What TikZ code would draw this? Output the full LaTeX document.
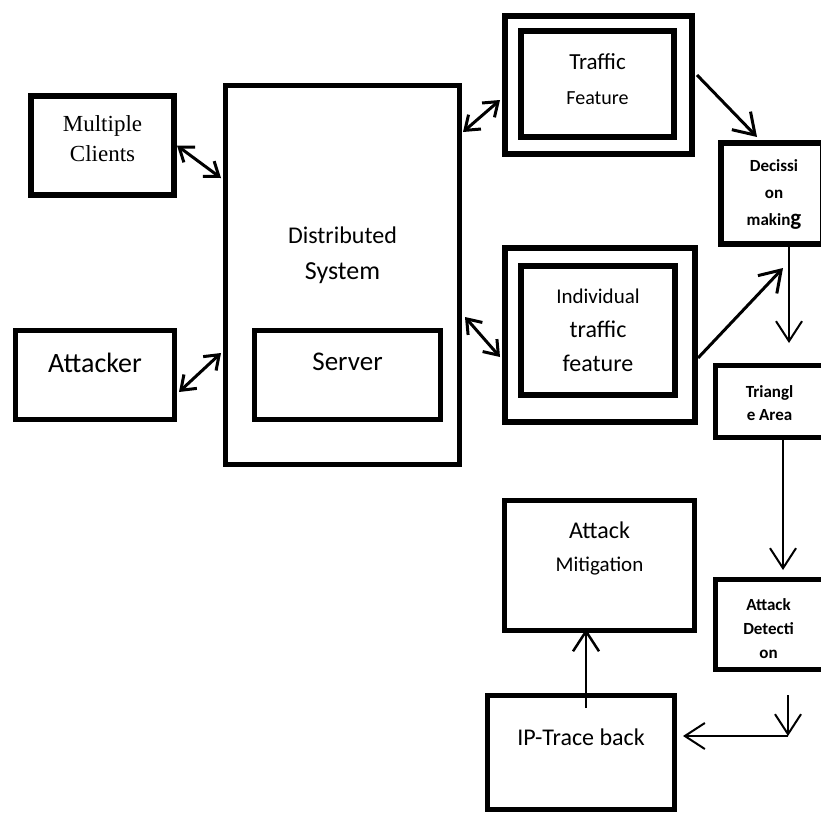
\documentclass[tikz,border=0pt]{standalone}
\usepackage{fontspec}
\setmainfont{Carlito}
\newfontfamily\timesfont{Liberation Serif}
\usetikzlibrary{arrows.meta,calc,positioning}
\tikzset{
mybox/.style={
  rectangle,
  line width=5pt,
  inner sep=0pt,
  draw=black,
  }
}
\tikzset{
mytext/.style={
  align=center,
  inner sep=0pt,
  }
}
\tikzset{
myline/.style={
  line width=2pt,
  -{Straight Barb[length=20pt,width=26pt]}
  }
}
\tikzset{
mydline/.style={
  line width=3pt,
  {Straight Barb[length=13pt,width=19pt]}-{Straight Barb[length=13pt,width=19pt]}
  }
}

\begin{document}
\begin{tikzpicture}[x=1pt,y=-1pt]
    \useasboundingbox (0,0) rectangle (821,814);
    \clip (0,0) rectangle (821,814);

    % left part
    \node[mybox, line width=6pt, minimum width=143pt, minimum height=99pt,
      label={[mytext, yshift=7pt, font=\timesfont\fontsize{23}{30}\selectfont]center:Multiple\\Clients}] (clients) at (102.5,145.5) {};
    \node[mybox, minimum width=159pt, minimum height=89pt,
      label={[mytext, yshift=12pt, font=\fontsize{28}{32}\selectfont]center:Attacker}] (attacker) at (95,375) {};

    % system part
    \node[mybox, minimum width=234pt, minimum height=379pt,
      label={[mytext, yshift=20pt, font=\fontsize{24}{36}\selectfont]center:Distributed\\{\fontsize{26}{36}\selectfont System}}] (dsys) at (342.5,275) {};
    \node[mybox, minimum width=186pt, minimum height=89pt,
      label={[mytext, yshift=13pt, font=\fontsize{27}{32}\selectfont]center:Server}] (server) at (347.5,375) {};

    % feature part
    \node[mybox, line width=6pt, minimum width=187pt, minimum height=138pt] (traffic) at (598.5,85) {};
    \node[mybox, line width=6pt, minimum width=153pt, minimum height=106pt,
      label={[mytext, yshift=4.5pt, font=\fontsize{23}{35}\selectfont]center:Traffic\\{\fontsize{20}{35}\selectfont Feature}}] (trafficin) at (597.5,84) {};
    \node[mybox, line width=6pt, minimum width=190pt, minimum height=174pt] (indiv) at (600,335) {};
    \node[mybox, line width=6pt, minimum width=154pt, minimum height=129pt,
      label={[mytext, font=\fontsize{24}{34}\selectfont]center:{\fontsize{21}{34}\selectfont Individual}\\traffic\\feature}] (indivin) at (598,330.5) {};

    % detection part
    \node[mybox, line width=6pt, minimum width=102pt, minimum height=101pt,
      label={[mytext, xshift=2pt, yshift=-1pt, font=\bfseries\fontsize{17}{27}\selectfont]center:Decissi\\on\\makin{\fontsize{23}{27}\selectfont g}}] (decision) at (772,193.5) {};
    \node[mybox, minimum width=108pt, minimum height=72pt,
      label={[mytext, yshift=-2pt, font=\bfseries\fontsize{17}{23}\selectfont]center:Triangl\\e Area}] (triangle) at (769.5,401.5) {};
    \node[mybox, minimum width=108pt, minimum height=90pt,
      label={[mytext, xshift=-1pt, yshift=-4.5pt, font=\bfseries\fontsize{17}{24}\selectfont]center:Attack\\Detecti\\on}] (detect) at (769.5,624.5) {};

    % response part
    \node[mybox, minimum width=190pt, minimum height=130pt,
      label={[mytext, yshift=17pt, font=\fontsize{24}{33}\selectfont]center:Attack\\{\fontsize{21}{33}\selectfont Mitigation}}] (mitig) at (599.5,565.5) {};
    \node[mybox, minimum width=187pt, minimum height=114pt,
      label={[mytext, yshift=15.5pt, font=\fontsize{24}{30}\selectfont]center:IP-Trace back}] (trace) at (581,752.5) {};
    \coordinate (turn) at (788,736);

    % two way edges
    \draw[mydline] (clients.east) -- ($(dsys.north west)+(-2,95)$);
    \draw[mydline] ($(attacker.east)+(2,17)$) -- ($(dsys.south west)+(-2,-114)$);
    \draw[mydline] ($(dsys.north east)+(1,49)$) -- ($(traffic.south west)+(-2,-57)$);
    \draw[mydline] ($(dsys.north east)+(3,34)+(0,200)$) -- ($(indiv.north west)+(-2,112)$);

    % feature edges
    \draw[myline, line width=3pt] ($(traffic.north east)+(2,62)$) -- ($(decision.north west)+(39,-3)$);
    \draw[myline, line width=3pt] ($(indiv.south east)+(0,-67)$) -- ($(decision.south west)+(65,21)$);

    % detection edges
    \draw[myline] ($(decision.south west)+(71,0)$) -- ($(triangle.north west)+(76,-20)$);
    \draw[myline] ($(triangle.south west)+(70,0)$) -- ($(detect.north west)+(70,-7)$);
    \draw[myline] ($(detect.south west)+(75,23)$) -- (turn);
    \draw[myline, shorten >=6pt] (turn) -- (turn -| trace.east);
    \draw[myline, line width=2.5pt] ($(trace.north west)+(101,15)$) -- ($(mitig.south west)+(84,-4)$);
\end{tikzpicture}
\end{document}
